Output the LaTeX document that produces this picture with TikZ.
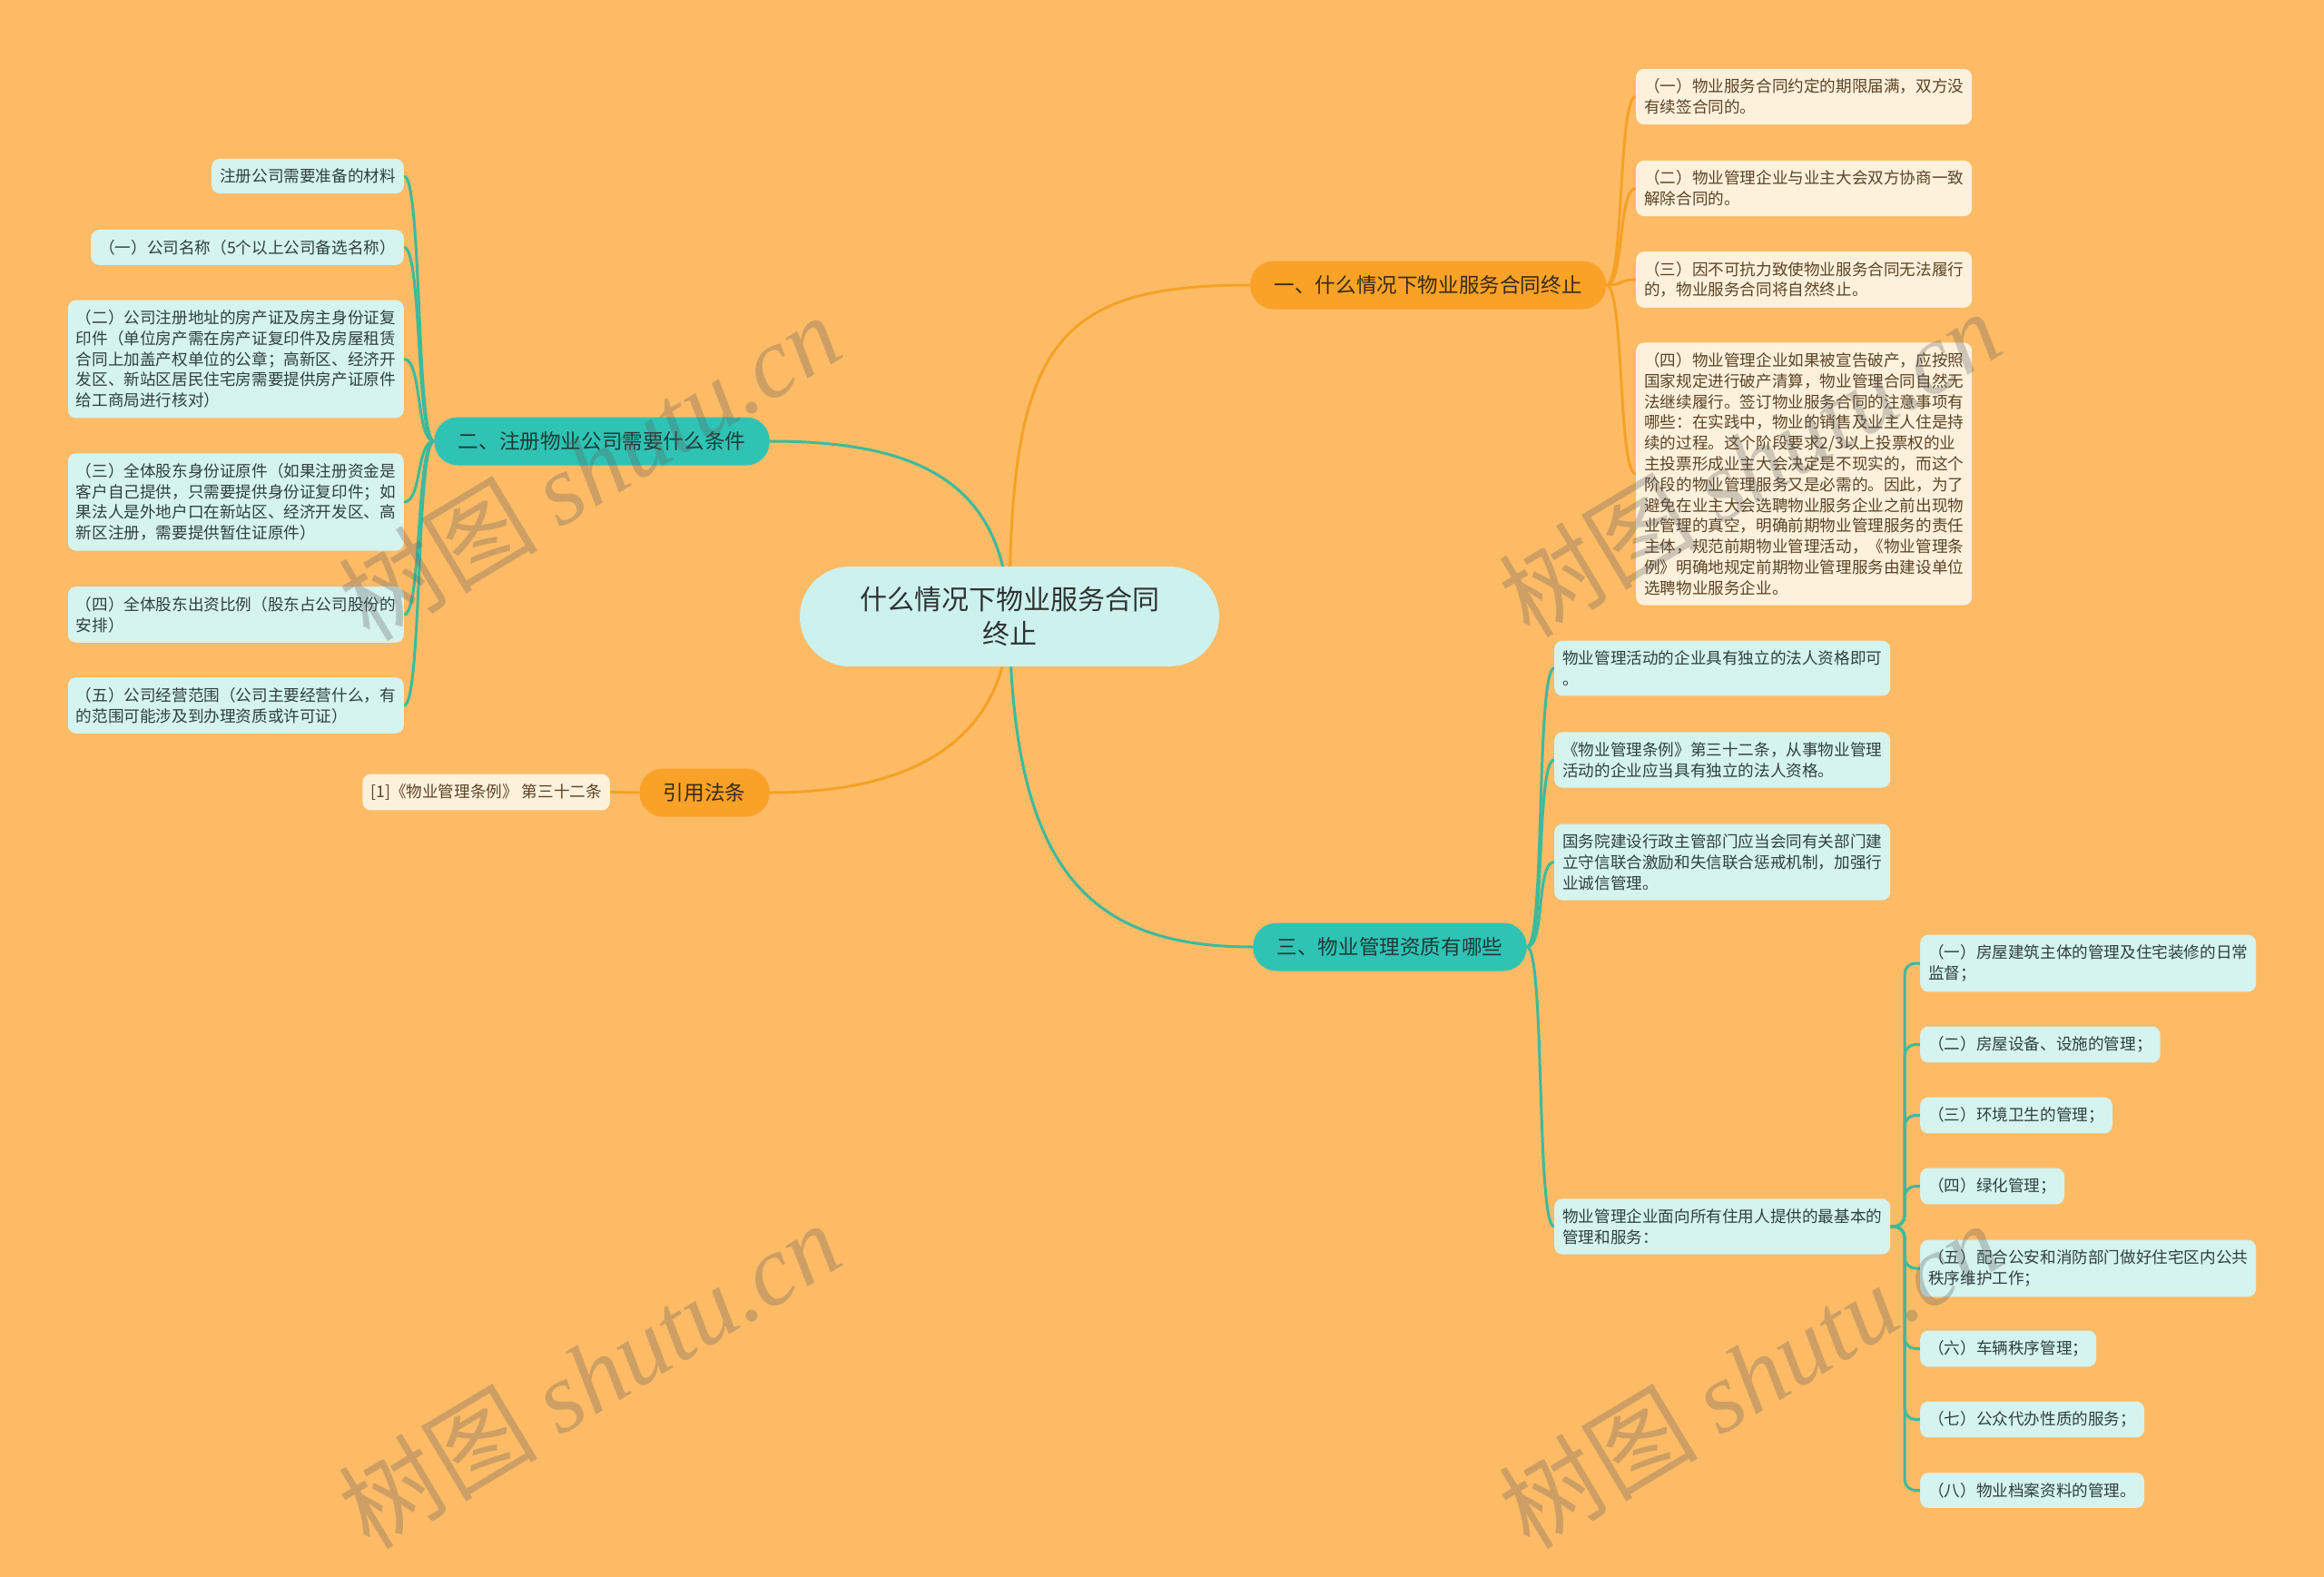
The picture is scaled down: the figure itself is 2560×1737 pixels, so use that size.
\documentclass[tikz,border=0pt]{standalone}
\usepackage{fontspec}
\setmainfont{Noto Sans CJK SC}
\newfontfamily\wmserif{Liberation Serif}
\pgfdeclarelayer{bglayer}
\pgfdeclarelayer{lines}
\pgfsetlayers{bglayer,lines,main}
\definecolor{bgc}{HTML}{FDBB66}
\definecolor{orgfill}{HTML}{F9A227}
\definecolor{orgline}{HTML}{F5A125}
\definecolor{tealfill}{HTML}{2FC3B4}
\definecolor{tealline}{HTML}{3CBA9C}
\definecolor{cyanleafc}{HTML}{D5F3EF}
\definecolor{creamleafc}{HTML}{FDF1DC}
\definecolor{rootfill}{HTML}{CDF2EE}
\definecolor{cyantext}{HTML}{2F403F}
\definecolor{creamtext}{HTML}{5B4326}
\definecolor{roottext}{HTML}{2E3333}
\definecolor{orgtext}{HTML}{3A2A14}
\definecolor{tealtext}{HTML}{1E3B38}
\tikzset{
  leafbase/.style={draw=none, rounded corners=9pt, inner xsep=9pt, inner ysep=11pt,
    align=left, font=\fontsize{17.6}{22.8}\selectfont},
  cyanleaf/.style={leafbase, fill=cyanleafc, text=cyantext},
  creamleaf/.style={leafbase, fill=creamleafc, text=creamtext},
  pill/.style={rounded corners=26pt, minimum height=53pt, inner xsep=26.5pt,
    font=\fontsize{22.6}{27}\selectfont},
  orgpill/.style={pill, fill=orgfill, text=orgtext},
  tealpill/.style={pill, fill=tealfill, text=tealtext},
  rootnode/.style={fill=rootfill, text=roottext, rounded corners=55pt,
    minimum width=462pt, minimum height=110pt, align=center,
    font=\fontsize{30}{38}\selectfont},
  oline/.style={draw=orgline, line width=3pt},
  tline/.style={draw=tealline, line width=3pt},
  wm/.style={text=gray!75!black, opacity=0.3, rotate=31,
    font=\fontsize{110}{120}\selectfont}
}
\begin{document}
\begin{tikzpicture}[x=1pt, y=-1pt]
\begin{pgfonlayer}{bglayer}
\useasboundingbox (0,0) rectangle (2560,1737);
\fill[bgc] (0,0) rectangle (2560,1737);
\end{pgfonlayer}

% root
\node[rootnode] (root) at (1112,679) {什么情况下物业服务合同\\终止};

% main branches
\node[orgpill, anchor=west] (b1) at (1377,314) {一、什么情况下物业服务合同终止};
\node[tealpill, anchor=east] (b2) at (848,486) {二、注册物业公司需要什么条件};
\node[orgpill, anchor=east] (b4) at (848,873) {引用法条};
\node[tealpill, anchor=west] (b3) at (1380,1043) {三、物业管理资质有哪些};

% branch 1 leaves
\node[creamleaf, anchor=west] (l1a) at (1802,106.5) {（一）物业服务合同约定的期限届满，双方没\\有续签合同的。};
\node[creamleaf, anchor=west] (l1b) at (1802,207.5) {（二）物业管理企业与业主大会双方协商一致\\解除合同的。};
\node[creamleaf, anchor=west] (l1c) at (1802,308) {（三）因不可抗力致使物业服务合同无法履行\\的，物业服务合同将自然终止。};
\node[creamleaf, anchor=west] (l1d) at (1802,522) {（四）物业管理企业如果被宣告破产，应按照\\国家规定进行破产清算，物业管理合同自然无\\法继续履行。签订物业服务合同的注意事项有\\哪些：在实践中，物业的销售及业主人住是持\\续的过程。这个阶段要求2/3以上投票权的业\\主投票形成业主大会决定是不现实的，而这个\\阶段的物业管理服务又是必需的。因此，为了\\避免在业主大会选聘物业服务企业之前出现物\\业管理的真空，明确前期物业管理服务的责任\\主体，规范前期物业管理活动，《物业管理条\\例》明确地规定前期物业管理服务由建设单位\\选聘物业服务企业。};

% branch 2 leaves
\node[cyanleaf, anchor=east] (l2a) at (445,194) {注册公司需要准备的材料};
\node[cyanleaf, anchor=east] (l2b) at (445,272.5) {（一）公司名称（5个以上公司备选名称）};
\node[cyanleaf, anchor=east] (l2c) at (445,395.5) {（二）公司注册地址的房产证及房主身份证复\\印件（单位房产需在房产证复印件及房屋租赁\\合同上加盖产权单位的公章；高新区、经济开\\发区、新站区居民住宅房需要提供房产证原件\\给工商局进行核对）};
\node[cyanleaf, anchor=east] (l2d) at (445,553) {（三）全体股东身份证原件（如果注册资金是\\客户自己提供，只需要提供身份证复印件；如\\果法人是外地户口在新站区、经济开发区、高\\新区注册，需要提供暂住证原件）};
\node[cyanleaf, anchor=east] (l2e) at (445,677) {（四）全体股东出资比例（股东占公司股份的\\安排）};
\node[cyanleaf, anchor=east] (l2f) at (445,777) {（五）公司经营范围（公司主要经营什么，有\\的范围可能涉及到办理资质或许可证）};

% reference leaf
\node[creamleaf, anchor=east] (r1) at (672,872.5) {[1]《物业管理条例》 第三十二条};

% branch 3 leaves
\node[cyanleaf, anchor=west] (l3a) at (1712,736) {物业管理活动的企业具有独立的法人资格即可\\。};
\node[cyanleaf, anchor=west] (l3b) at (1712,837) {《物业管理条例》第三十二条，从事物业管理\\活动的企业应当具有独立的法人资格。};
\node[cyanleaf, anchor=west] (l3c) at (1712,949.5) {国务院建设行政主管部门应当会同有关部门建\\立守信联合激励和失信联合惩戒机制，加强行\\业诚信管理。};
\node[cyanleaf, anchor=west] (l3d) at (1712,1351) {物业管理企业面向所有住用人提供的最基本的\\管理和服务：};

% sub leaves
\node[cyanleaf, anchor=west] (c1) at (2115,1061) {（一）房屋建筑主体的管理及住宅装修的日常\\监督；};
\node[cyanleaf, anchor=west] (c2) at (2115,1150.5) {（二）房屋设备、设施的管理；};
\node[cyanleaf, anchor=west] (c3) at (2115,1228.5) {（三）环境卫生的管理；};
\node[cyanleaf, anchor=west] (c4) at (2115,1306.5) {（四）绿化管理；};
\node[cyanleaf, anchor=west] (c5) at (2115,1397) {（五）配合公安和消防部门做好住宅区内公共\\秩序维护工作；};
\node[cyanleaf, anchor=west] (c6) at (2115,1485.5) {（六）车辆秩序管理；};
\node[cyanleaf, anchor=west] (c7) at (2115,1563.5) {（七）公众代办性质的服务；};
\node[cyanleaf, anchor=west] (c8) at (2115,1641.5) {（八）物业档案资料的管理。};

\coordinate (tj) at (2098,1351);

% connectors
\begin{pgfonlayer}{lines}
\draw[oline] (root.center) .. controls (1112,380) and (1160,314) .. (b1.west);
\draw[tline] (root.center) .. controls (1106,530) and (1010,486) .. (b2.east);
\draw[tline] (root.center) .. controls (1114,960) and (1200,1043) .. (b3.west);
\draw[oline] (root.center) .. controls (1108,820) and (1000,873) .. (b4.east);
\foreach \c in {l1a,l1b,l1c,l1d}
  \draw[oline] (b1.east) .. controls +(20,0) and +(-20,0) .. (\c.west);
\foreach \c in {l2a,l2b,l2c,l2d,l2e,l2f}
  \draw[tline] (b2.west) .. controls +(-20,0) and +(20,0) .. (\c.east);
\foreach \c in {l3a,l3b,l3c,l3d}
  \draw[tline] (b3.east) .. controls +(20,0) and +(-20,0) .. (\c.west);
\draw[oline] (b4.west) -- (r1.east);
\foreach \c in {c1,c2,c3,c4,c5,c6,c7,c8}
  \draw[tline, rounded corners=12pt] (l3d.east) -- (tj) |- (\c.west);
\end{pgfonlayer}

% watermarks
\node[wm] (w1) at (649,514) {树图 {\wmserif\itshape shutu.cn}};
\node[wm] (w2) at (1927,510) {树图 {\wmserif\itshape shutu.cn}};
\node[wm] (w3) at (649,1514) {树图 {\wmserif\itshape shutu.cn}};
\node[wm] (w4) at (1927,1514) {树图 {\wmserif\itshape shutu.cn}};
\end{tikzpicture}
\end{document}
